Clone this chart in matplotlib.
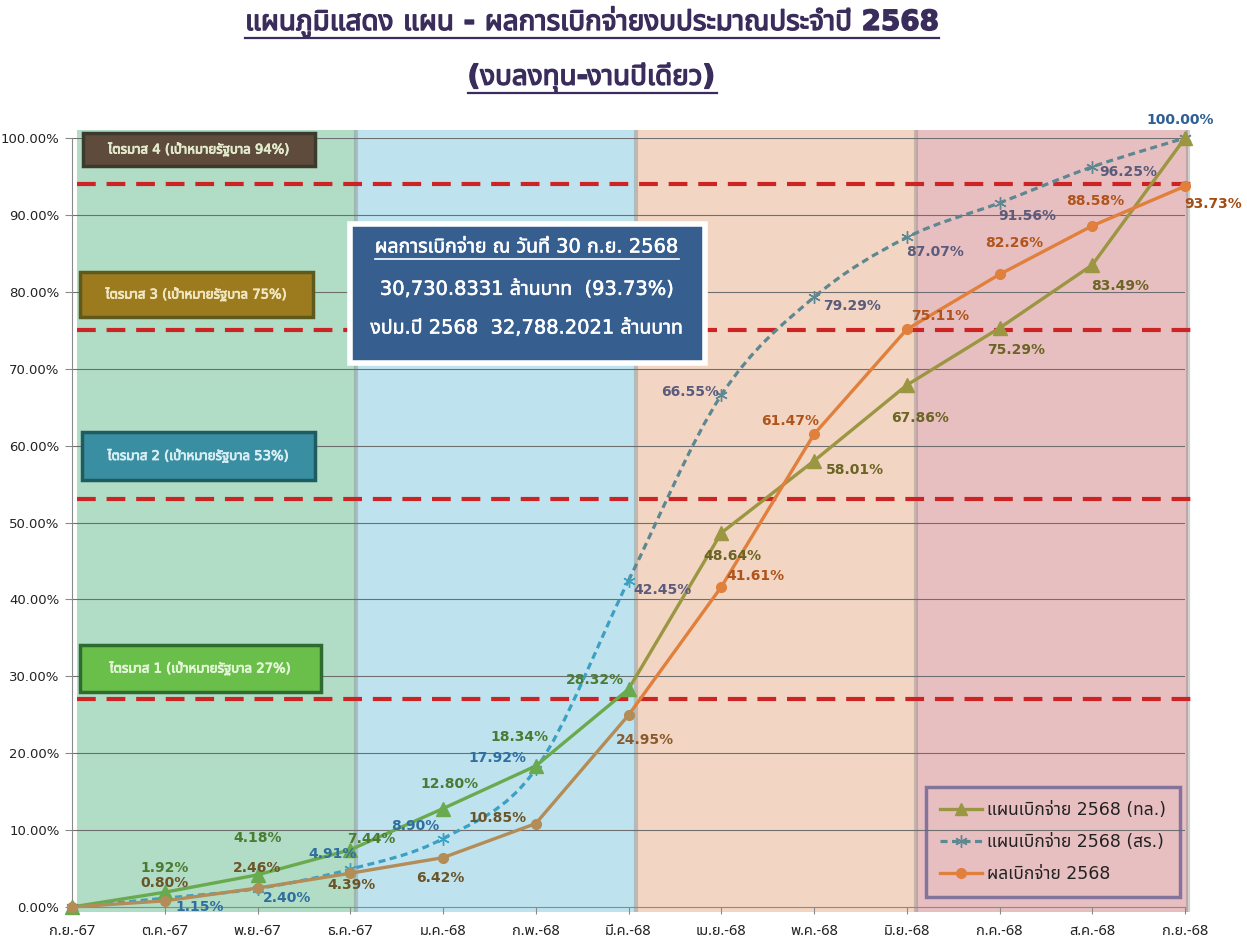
import matplotlib
matplotlib.use("Agg")
import matplotlib.pyplot as plt
from matplotlib import font_manager
from matplotlib.ft2font import FT2Font
from matplotlib.patches import Rectangle, PathPatch
from matplotlib.lines import Line2D
from matplotlib.path import Path
import matplotlib.patheffects as pe

# ---------------- data ----------------
months = ["ก.ย.-67", "ต.ค.-67", "พ.ย.-67", "ธ.ค.-67", "ม.ค.-68", "ก.พ.-68", "มี.ค.-68",
          "เม.ย.-68", "พ.ค.-68", "มิ.ย.-68", "ก.ค.-68", "ส.ค.-68", "ก.ย.-68"]
plan_tl = [0.00, 1.92, 4.18, 7.44, 12.80, 18.34, 28.32, 48.64, 58.01, 67.86, 75.29, 83.49, 100.00]
plan_sr = [0.00, 1.15, 2.40, 4.91, 8.90, 17.92, 42.45, 66.55, 79.29, 87.07, 91.56, 96.25, 100.00]
actual = [0.00, 0.80, 2.46, 4.39, 6.42, 10.85, 24.95, 41.61, 61.47, 75.11, 82.26, 88.58, 93.73]
targets = [27, 53, 75, 94]
target_labels = ["ไตรมาส 1 (เป้าหมายรัฐบาล 27%)", "ไตรมาส 2 (เป้าหมายรัฐบาล 53%)",
                 "ไตรมาส 3 (เป้าหมายรัฐบาล 75%)", "ไตรมาส 4 (เป้าหมายรัฐบาล 94%)"]
series_names = ["แผนเบิกจ่าย 2568 (ทล.)", "แผนเบิกจ่าย 2568 (สร.)", "ผลเบิกจ่าย 2568"]
title1 = "แผนภูมิแสดง แผน - ผลการเบิกจ่ายงบประมาณประจำปี 2568"
title2 = "(งบลงทุน-งานปีเดียว)"
info_lines = ["ผลการเบิกจ่าย ณ วันที่ 30 ก.ย. 2568",
              "30,730.8331 ล้านบาท  (93.73%)",
              "งปม.ปี 2568  32,788.2021 ล้านบาท"]

# ---------------- fonts ----------------
thai = []
for f in font_manager.fontManager.ttflist:
    try:
        cm = FT2Font(f.fname).get_charmap()
    except Exception:
        continue
    if 0x0E01 in cm and f.name not in thai:
        thai.append(f.name)
pref = ["Tahoma", "Noto Sans Thai", "Noto Sans Thai UI", "Loma", "Garuda", "Tlwg Typo", "Kinnari"]
thai_sorted = [p for p in pref if p in thai] + [t for t in thai if t not in pref]
FAM = ["DejaVu Sans"] + thai_sorted[:2]
plt.rcParams["font.family"] = FAM

W, H = 1247, 946
fig = plt.figure(figsize=(W / 100, H / 100), dpi=100)
fig.patch.set_facecolor("white")

def fx(px):
    return px / W

def fy(py):
    return 1 - py / H

ax = fig.add_axes([fx(72), fy(907), (1185 - 72) / W, (907 - 138) / H])
ax.set_xlim(0, 12)
ax.set_ylim(0, 100)
ax.set_facecolor("none")
x = list(range(len(months)))

# background bands
bands = [(0.05, 3.06, "#b1dcc5"), (3.06, 6.08, "#bfe3ee"), (6.08, 9.10, "#f2d6c3"), (9.10, 12.03, "#e8bfc1")]
for a, b, c in bands:
    ax.add_patch(Rectangle((a, -0.7), b - a, 101.8, facecolor=c, edgecolor="none",
                           zorder=0, clip_on=False))
for a, b, c in bands:
    ax.plot([b, b], [-0.7, 101.1], color="#7a7a7a", alpha=0.35, lw=3, zorder=0.5,
            clip_on=False, solid_capstyle="butt")

# grid
for g in range(10, 101, 10):
    ax.axhline(g, color="#6f6f6f", lw=0.8, zorder=1)

# target dashed lines
for t in targets:
    ax.plot([0.054, 12.11], [t, t], color="#cc2424", lw=3.0, dashes=(4.5, 2.6),
            zorder=2, clip_on=False)

# spines and ticks
for s in ["top", "right"]:
    ax.spines[s].set_visible(False)
ax.spines["left"].set_color("#8a8a8a")
ax.spines["bottom"].set_color("#8a8a8a")
ax.spines["left"].set_zorder(3)
ax.set_xticks(x)
ax.set_xticklabels(months, fontsize=10.5, color="#222222", family=thai_sorted[:1] + ["DejaVu Sans"])
ax.set_yticks(range(0, 101, 10))
ax.set_yticklabels([f"{v:.2f}%" for v in range(0, 101, 10)], fontsize=9.5, color="#222222")
ax.tick_params(axis="both", direction="out", length=5, color="#8a8a8a", width=0.8)
ax.tick_params(axis="x", pad=7)
ax.tick_params(axis="y", pad=4)


# smoothed (Excel-like Catmull-Rom Bezier) path through the series points
def smooth_path(vals, i0, i1):
    n = len(vals)
    P = [(float(i), float(v)) for i, v in enumerate(vals)]
    verts = [P[i0]]
    codes = [Path.MOVETO]
    for i in range(i0, i1):
        pm = P[max(i - 1, 0)]
        p0 = P[i]
        p1 = P[i + 1]
        p2 = P[min(i + 2, n - 1)]
        c1 = (p0[0] + (p1[0] - pm[0]) / 6, p0[1] + (p1[1] - pm[1]) / 6)
        c2 = (p1[0] - (p2[0] - p0[0]) / 6, p1[1] - (p2[1] - p0[1]) / 6)
        verts += [c1, c2, p1]
        codes += [Path.CURVE4] * 3
    return Path(verts, codes)


def draw_curve(vals, i0, i1, color, lw, ls="-"):
    ax.add_patch(PathPatch(smooth_path(vals, i0, i1), fill=False, edgecolor=color,
                           lw=lw, ls=ls, zorder=5, clip_on=False, capstyle="butt"))


def draw_markers(vals, i0, i1, color, **kw):
    ax.plot(x[i0:i1 + 1], vals[i0:i1 + 1], ls="none", color=color, markerfacecolor=color,
            markeredgecolor=color, zorder=6, clip_on=False, **kw)


# สร. (dashed, smooth throughout)
sr_dash = (0, (2.2, 1.4))
draw_curve(plan_sr, 0, 6, "#3ba0c2", 2.3, sr_dash)
draw_curve(plan_sr, 6, 12, "#5d8791", 2.3, sr_dash)
draw_markers(plan_sr, 0, 6, "#3ba0c2", marker=(6, 2, 0), markersize=9, markeredgewidth=1)
draw_markers(plan_sr, 7, 12, "#5d8791", marker=(6, 2, 0), markersize=9, markeredgewidth=1)
# ทล.
ax.plot(x[:7], plan_tl[:7], color="#6aaa4f", lw=2.4, zorder=5, clip_on=False)
ax.plot(x[6:], plan_tl[6:], color="#9a9641", lw=2.4, zorder=5, clip_on=False)
draw_markers(plan_tl, 0, 6, "#6aaa4f", marker="^", markersize=10)
draw_markers(plan_tl, 7, 12, "#9a9641", marker="^", markersize=10)
# ผล
ax.plot(x[:7], actual[:7], color="#b38c58", lw=2.4, zorder=5, clip_on=False)
ax.plot(x[6:], actual[6:], color="#e0803c", lw=2.4, zorder=5, clip_on=False)
draw_markers(actual, 0, 6, "#b38c58", marker="o", markersize=7)
draw_markers(actual, 7, 12, "#e0803c", marker="o", markersize=7)

# value labels (offsets in pixels)
tl_off = [None, (0, 24), (0, 37), (21, 11), (7, 25), (-16, 29), (-34, 9),
          (11, -23), (41, -9), (13, -33), (17, -22), (28, -21), None]
sr_off = [None, (35, -9), (30, -9), (-18, 15), (-28, 13), (-38, 11), (34, -9),
          (-31, 3), (38, -9), (28, -15), (28, -13), (36, -5), (-5, 18)]
ac_off = [None, (0, 18), (0, 20), (1, -12), (-3, -20), (-38, 6), (16, -25),
          (34, 11), (-24, 13), (33, 13), (15, 31), (3, 25), (28, -18)]
tl_col = ["#4a7b33"] * 7 + ["#6b6424"] * 6
sr_col = ["#2f6fa0"] * 6 + ["#5b5b7b"] * 6 + ["#2e5f92"]
ac_col = ["#6b5427"] * 6 + ["#8a5a2c"] + ["#b0541c"] * 5 + ["#a24c12"]


def labels(vals, offs, cols):
    for i, v in enumerate(vals):
        if offs[i] is None:
            continue
        ax.annotate(f"{v:.2f}%", (i, v), xytext=offs[i], textcoords="offset pixels",
                    ha="center", va="center", fontsize=10, fontweight="bold",
                    color=cols[i], zorder=7, annotation_clip=False)


labels(plan_tl, tl_off, tl_col)
labels(plan_sr, sr_off, sr_col)
labels(actual, ac_off, ac_col)

# quarter boxes
qboxes = [  # x0, y0, x1, y1 (pixels), fill, edge, text colour
    (80, 645, 321, 692, "#6abf4b", "#2e6b2e", "#e4f5d8"),
    (82, 432, 315, 480, "#3a8ea2", "#1f5c60", "#d8eef2"),
    (80, 272, 313, 317, "#9c7a1e", "#5e5a1e", "#f0e6c0"),
    (83, 133, 315, 166, "#5f4b3b", "#3b3a2c", "#e2ebcd"),
]
for (x0, y0, x1, y1, fc, ec, tc), lab in zip(qboxes, target_labels):
    fig.patches.append(Rectangle((fx(x0), fy(y1)), (x1 - x0) / W, (y1 - y0) / H,
                                 transform=fig.transFigure, facecolor=fc, edgecolor=ec,
                                 lw=2.5, zorder=6))
    fig.text(fx((x0 + x1) / 2), fy((y0 + y1) / 2), lab, ha="center", va="center",
             fontsize=9.5, color=tc, zorder=7,
             path_effects=[pe.withStroke(linewidth=0.6, foreground=tc)])

# info box
fig.patches.append(Rectangle((fx(350), fy(363)), (705 - 350) / W, (363 - 224) / H,
                             transform=fig.transFigure, facecolor="#365f90", edgecolor="white",
                             lw=4, zorder=6))
iy = [247, 289, 328]
itexts = []
for yy, s in zip(iy, info_lines):
    itexts.append(fig.text(fx(527), fy(yy), s, ha="center", va="center", fontsize=14,
                           color="white", zorder=7,
                           path_effects=[pe.withStroke(linewidth=0.4, foreground="white")]))

# legend
handles = [
    Line2D([], [], color="#9a9641", lw=2.4, marker="^", markersize=8),
    Line2D([], [], color="#5d8791", lw=2.3, ls=(0, (2.2, 1.4)), marker=(6, 2, 0),
           markersize=9, markeredgewidth=1),
    Line2D([], [], color="#e0803c", lw=2.4, marker="o", markersize=7),
]
leg = ax.legend(handles, series_names, loc="lower right",
                bbox_to_anchor=(fx(1180), fy(897)), bbox_transform=fig.transFigure,
                fontsize=12.5, frameon=True, fancybox=False, handlelength=2.4,
                handletextpad=0.3, labelspacing=0.8, borderpad=0.8, borderaxespad=0)
leg.get_frame().set_edgecolor("#6a6292")
leg.get_frame().set_linewidth(2.5)
leg.get_frame().set_facecolor("none")
leg.set_zorder(8)
for t in leg.get_texts():
    t.set_color("#222222")

# titles
tc = "#3a2d5c"
t1 = fig.text(fx(592), fy(22), title1, ha="center", va="center", fontsize=20,
              fontweight="bold", color=tc,
              path_effects=[pe.withStroke(linewidth=1.0, foreground=tc)])
t2 = fig.text(fx(592), fy(77), title2, ha="center", va="center", fontsize=20,
              fontweight="bold", color=tc,
              path_effects=[pe.withStroke(linewidth=1.0, foreground=tc)])

fig.canvas.draw()
r = fig.canvas.get_renderer()


def underline(t, ypix, color, lw):
    bb = t.get_window_extent(r)
    fig.add_artist(Line2D([bb.x0 / W, bb.x1 / W], [fy(ypix), fy(ypix)],
                          transform=fig.transFigure, color=color, lw=lw, zorder=8))


underline(t1, 38, tc, 1.6)
underline(t2, 93, tc, 1.6)
underline(itexts[0], 259, "white", 1.2)

fig.savefig("out.png", dpi=100, facecolor="white")
